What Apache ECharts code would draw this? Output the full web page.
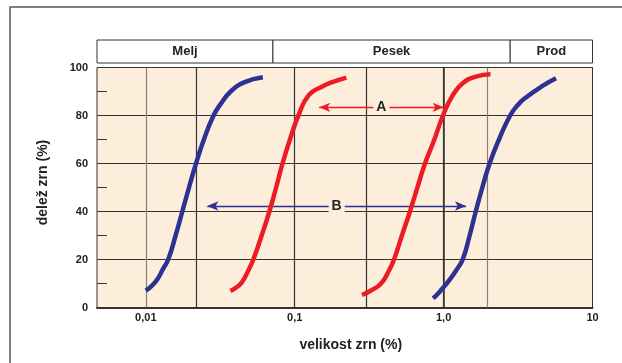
<!DOCTYPE html>
<html>
<head>
<meta charset="utf-8">
<script src="https://cdn.jsdelivr.net/npm/echarts@6/dist/echarts.min.js"></script>
<style>html,body{margin:0;padding:0;background:#fff}#c{width:622px;height:363px}</style>
</head>
<body>
<div id="c"></div>
<script>
// ---- data (grain size in mm, share in %) ----
const xRange = [0.0047, 10];
const xTickValues = [0.01, 0.1, 1, 10];
const xTickLabels = ['0,01', '0,1', '1,0', '10'];
const yMinorTicks = [10, 30, 50, 70, 90];
const vGridLines = [0.01, 0.0218, 0.1, 0.3, 1, 1.94];
const vGridColors = ['#8a8078', '#333', '#333', '#333', '#333', '#8a8078'];

const headerNames = ['Melj', 'Pesek', 'Prod'];
const headerBounds = [0.0047, 0.0714, 2.8, 10];

const blue1X = [0.0100, 0.01096, 0.01202, 0.01303, 0.01413, 0.01585, 0.01758, 0.01950, 0.02173, 0.02455, 0.02851, 0.03199, 0.03715, 0.04571, 0.06109];
const blue1Y = [7, 9, 12, 16, 20, 30, 40, 50, 60, 70, 80, 85, 90, 93.8, 95.9];
const red1X = [0.03698, 0.03981, 0.04416, 0.04842, 0.05272, 0.05998, 0.06761, 0.07499, 0.08279, 0.09290, 0.1059, 0.1242, 0.1521, 0.1770, 0.2223];
const red1Y = [6.9, 8, 10.5, 15, 20, 30, 40, 50, 60, 70, 80, 88.5, 92, 93.8, 95.8];
const red2X = [0.2831, 0.3236, 0.3802, 0.4266, 0.4645, 0.5248, 0.5943, 0.6668, 0.7499, 0.8670, 0.9908, 1.153, 1.343, 1.644, 2.065];
const red2Y = [5.2, 7, 10, 15, 20, 30, 40, 50, 60, 70, 80, 88.5, 93.4, 96.2, 97.2];
const blue2X = [0.8511, 0.9550, 1.096, 1.230, 1.343, 1.496, 1.644, 1.820, 2.037, 2.355, 2.799, 3.162, 3.516, 4.529, 5.689];
const blue2Y = [3.8, 7, 11.5, 16, 20, 30, 40, 50, 60, 70, 80, 84.5, 87.2, 92, 95.5];

const arrowA = { x: [0.146, 1.0], y: 83.4, label: 'A' };
const arrowB = { x: [0.0259, 1.413], y: 42.3, label: 'B' };

const BLUE = '#2e3192', RED = '#ed1c24', PEACH = '#fdeedc', INK = '#222';
const FONT = '"Liberation Sans", Arial, Helvetica, sans-serif';
const L = Math.log10;

function curve(xs, ys, color) {
  return {
    type: 'line', xAxisIndex: 0, yAxisIndex: 0, z: 5,
    data: xs.map((x, i) => [L(x), ys[i]]),
    smooth: 0.5, symbol: 'none',
    lineStyle: { color: color, width: 4.5 }
  };
}
function arrow(a, color) {
  return {
    type: 'line', xAxisIndex: 0, yAxisIndex: 0, data: [], z: 6,
    markLine: {
      silent: true, symbol: ['arrow', 'arrow'], symbolSize: [7, 11],
      lineStyle: { color: color, width: 1.3, type: 'solid' },
      label: {
        show: true, position: 'insideMiddle', formatter: a.label,
        fontFamily: FONT, fontWeight: 'bold', fontSize: 14, color: INK,
        backgroundColor: PEACH, padding: [0, 3]
      },
      data: [[{ coord: [L(a.x[0]), a.y] }, { coord: [L(a.x[1]), a.y] }]]
    }
  };
}

const chart = echarts.init(document.getElementById('c'), null, { renderer: 'canvas' });
const option = {
  animation: false,
  backgroundColor: '#fff',
  graphic: [{
    type: 'polyline', silent: true,
    shape: { points: [[10, 363], [10, 7], [622, 7]] },
    style: { stroke: '#555', lineWidth: 1.5, fill: null }
  }],
  grid: [
    { left: 97, right: 29.5, top: 67.5, bottom: 55.5, show: true,
      backgroundColor: PEACH, borderColor: '#333', borderWidth: 1 },
    { left: 97, right: 29.5, top: 40, height: 23 }
  ],
  xAxis: [
    { type: 'value', gridIndex: 0, min: L(xRange[0]), max: L(xRange[1]),
      axisLine: { show: true, lineStyle: { color: '#333', width: 2 } },
      axisTick: { show: false }, splitLine: { show: false },
      axisLabel: {
        customValues: xTickValues.map(L), margin: 5,
        fontFamily: FONT, fontWeight: 'bold', fontSize: 11, color: INK,
        formatter: v => { const i = xTickValues.findIndex(t => Math.abs(L(t) - v) < 1e-6); return i >= 0 ? xTickLabels[i] : ''; }
      },
      name: 'velikost zrn (%)', nameLocation: 'middle', nameGap: 31,
      nameTextStyle: { fontFamily: FONT, fontWeight: 'bold', fontSize: 14, color: INK, padding: [0, 0, 0, 12] }
    },
    { type: 'value', gridIndex: 1, min: L(xRange[0]), max: L(xRange[1]), show: false }
  ],
  yAxis: [
    { type: 'value', gridIndex: 0, min: 0, max: 100, interval: 20,
      axisLine: { show: true, lineStyle: { color: '#333', width: 1.5 } },
      axisTick: { show: true, length: 3, lineStyle: { color: '#333' } },
      splitLine: { show: true, lineStyle: { color: '#333', width: 1 } },
      axisLabel: { margin: 9, fontFamily: FONT, fontWeight: 'bold', fontSize: 11, color: INK },
      name: 'delež zrn (%)', nameLocation: 'middle', nameGap: 47,
      nameTextStyle: { fontFamily: FONT, fontWeight: 'bold', fontSize: 14, color: INK, padding: [0, 0, 0, 10] }
    },
    { type: 'value', gridIndex: 0, min: 0, max: 100, interval: 10, position: 'left',
      axisLine: { show: false }, axisLabel: { show: false }, splitLine: { show: false },
      axisTick: { show: true, inside: true, length: 10, customValues: yMinorTicks, lineStyle: { color: '#333' } }
    },
    { type: 'value', gridIndex: 1, min: 0, max: 1, show: false }
  ],
  series: [
    { type: 'line', xAxisIndex: 0, yAxisIndex: 0, data: [], z: 2,
      markLine: {
        silent: true, symbol: 'none', label: { show: false },
        data: vGridLines.map((v, i) => ({ xAxis: L(v), lineStyle: { color: vGridColors[i], width: 1.2, type: 'solid' } }))
      }
    },
    { type: 'line', xAxisIndex: 1, yAxisIndex: 2, data: [[L(xRange[0]), 0.5]], symbol: 'none',
      lineStyle: { opacity: 0 },
      markArea: {
        silent: true,
        itemStyle: { color: '#fff', borderColor: '#333', borderWidth: 1 },
        label: { show: true, position: 'inside', fontFamily: FONT, fontWeight: 'bold', fontSize: 13, color: INK },
        data: headerNames.map((n, i) => [
          { name: n, xAxis: L(headerBounds[i]), yAxis: 0 },
          { xAxis: L(headerBounds[i + 1]), yAxis: 1 }
        ])
      }
    },
    curve(blue1X, blue1Y, BLUE),
    curve(red1X, red1Y, RED),
    curve(red2X, red2Y, RED),
    curve(blue2X, blue2Y, BLUE),
    arrow(arrowA, RED),
    arrow(arrowB, BLUE)
  ]
};
chart.setOption(option);
</script>
</body>
</html>
